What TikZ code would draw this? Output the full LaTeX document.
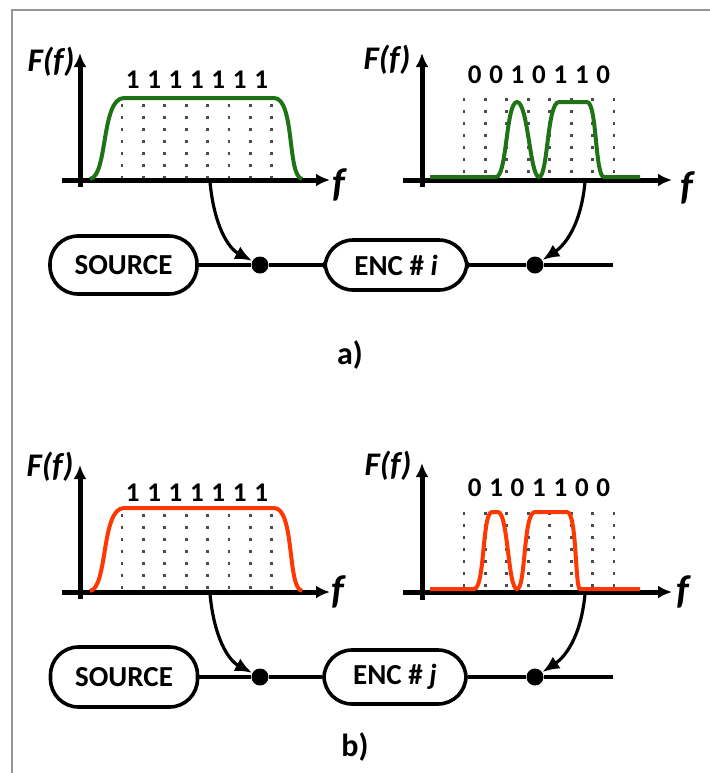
\documentclass[tikz,border=0pt]{standalone}
\usepackage{fontspec}
\setmainfont{Carlito}
\usepackage{xcolor}
\usepackage{tikz}
\usetikzlibrary{arrows.meta, positioning}

\definecolor{sigGreen}{RGB}{30,115,20}
\definecolor{sigRed}{RGB}{255,55,0}
\definecolor{frameGray}{RGB}{150,150,150}

\tikzset{
  axisline/.style={line width=2.5pt, -{Latex[length=7pt,width=6.5pt]}},
  gridline/.style={line width=1.4pt, dash pattern=on 1.5pt off 4.5pt, black!70},
  blockbox/.style={draw, line width=1.8pt, rounded corners=14pt, inner sep=0pt,
    font=\fontsize{14.5}{17}\selectfont\bfseries},
  junction/.style={circle, fill, inner sep=0pt, minimum size=8.5pt},
  feed/.style={line width=1.6pt, -{Latex[length=8.5pt,width=7pt]}},
  wire/.style={line width=1.8pt},
  bitlbl/.style={font=\fontsize{13.5}{15}\selectfont\bfseries},
  axlbl/.style={font=\fontsize{16.5}{18}\selectfont\bfseries\itshape},
  flbl/.style={font=\fontsize{20}{22}\selectfont\bfseries\itshape},
  tagl/.style={font=\fontsize{16}{18}\selectfont\bfseries},
  spec/.style={line width=2pt},
}

\begin{document}
\begin{tikzpicture}[x=0.5pt, y=-0.5pt]
  \path[fill=white] (0,0) rectangle (710,773);
  \useasboundingbox (0,0) rectangle (710,773);
  \draw[frameGray, line width=0.8pt] (12,773) -- (12,10) -- (710,10);

  % ---- a) source spectrum
  \draw[axisline] (80,187) -- (80,53);
  \draw[axisline] (62,180) -- (330,180);
  \node[axlbl] (aFl) at (51,62) {F(f)};
  \node[flbl] (afl) at (339,185) {f};
  \foreach \x in {0,...,7}
    \draw[gridline] (122+21.4*\x,104) -- (122+21.4*\x,178);
  \foreach \k in {0,...,6}
    \node[bitlbl] (abL\k) at (132.7+21.4*\k,80) {1};
  \draw[spec, sigGreen] (90,179) .. controls (108,176) and (101,98) .. (124,98)
    -- (274,98) .. controls (295,98) and (287,176) .. (302,179);

  % ---- a) encoded spectrum
  \draw[axisline] (422,187) -- (422,53);
  \draw[axisline] (403,180) -- (672,180);
  \node[axlbl] (aFr) at (387,60) {F(f)};
  \node[flbl] (afr) at (687,188) {f};
  \foreach \x in {0,...,7}
    \draw[gridline] (464+21.43*\x,98) -- (464+21.43*\x,178);
  \foreach \b [count=\k from 0] in {0,0,1,0,1,1,0}
    \node[bitlbl] (abR\k) at (474.7+21.43*\k,75) {\b};
  \draw[spec, sigGreen] (430,177) -- (496,177)
    .. controls (507,177) and (506,102) .. (517,102)
    .. controls (528,102) and (530,177) .. (539,177)
    .. controls (548,177) and (547,102) .. (559,102) -- (587,102)
    .. controls (597,102) and (595,177) .. (604,177) -- (640,177);

  % ---- a) chain
  \node[blockbox, minimum width=73.5pt, minimum height=29pt] (asrc) at (123.5,265) {SOURCE};
  \node[blockbox, minimum width=71pt, minimum height=25pt] (aenc) at (396,265) {ENC \# \textit{i}};
  \node[junction] (aj1) at (260,265) {};
  \node[junction] (aj2) at (535,265) {};
  \coordinate (aout) at (613,265);
  \draw[wire] (asrc) -- (aj1) -- (aenc) -- (aj2) -- (aout);
  \coordinate (atapL) at (210,182);
  \coordinate (atapR) at (585,182);
  \draw[feed] (atapL) .. controls (214,225) and (228,248) .. (aj1);
  \draw[feed] (atapR) .. controls (581,225) and (565,245) .. (aj2);
  \node[tagl] (atag) at (350,355) {a)};

  % ---- b) source spectrum
  \draw[axisline] (80,599) -- (80,465);
  \draw[axisline] (62,592) -- (330,592);
  \node[axlbl] (bFl) at (50,467) {F(f)};
  \node[flbl] (bfl) at (338,592) {f};
  \foreach \x in {0,...,7}
    \draw[gridline] (122+21.4*\x,514) -- (122+21.4*\x,590);
  \foreach \k in {0,...,6}
    \node[bitlbl] (bbL\k) at (132.7+21.4*\k,493) {1};
  \draw[spec, sigRed] (90,591) .. controls (108,588) and (101,508) .. (124,508)
    -- (274,508) .. controls (295,508) and (287,588) .. (302,591);

  % ---- b) encoded spectrum
  \draw[axisline] (422,600) -- (422,463);
  \draw[axisline] (403,592) -- (672,592);
  \node[axlbl] (bFr) at (388,466) {F(f)};
  \node[flbl] (bfr) at (683,592) {f};
  \foreach \x in {0,...,7}
    \draw[gridline] (464+21.43*\x,512) -- (464+21.43*\x,590);
  \foreach \b [count=\k from 0] in {0,1,0,1,1,0,0}
    \node[bitlbl] (bbR\k) at (474.7+21.43*\k,488) {\b};
  \draw[spec, sigRed] (430,589) -- (474,589)
    .. controls (485,589) and (482,512) .. (492,512) -- (498,512)
    .. controls (508,512) and (508,589) .. (517,589)
    .. controls (526,589) and (523,512) .. (535,512) -- (567,512)
    .. controls (577,512) and (575,589) .. (580,589) -- (640,589);

  % ---- b) chain
  \node[blockbox, minimum width=73.5pt, minimum height=30pt] (bsrc) at (124,677) {SOURCE};
  \node[blockbox, minimum width=71pt, minimum height=27pt] (benc) at (395,677) {ENC \# \textit{j}};
  \node[junction] (bj1) at (260,677) {};
  \node[junction] (bj2) at (535,677) {};
  \coordinate (bout) at (613,677);
  \draw[wire] (bsrc) -- (bj1) -- (benc) -- (bj2) -- (bout);
  \coordinate (btapL) at (210,594);
  \coordinate (btapR) at (585,594);
  \draw[feed] (btapL) .. controls (214,637) and (228,660) .. (bj1);
  \draw[feed] (btapR) .. controls (581,637) and (565,657) .. (bj2);
  \node[tagl] (btag) at (355,747) {b)};
\end{tikzpicture}
\end{document}
